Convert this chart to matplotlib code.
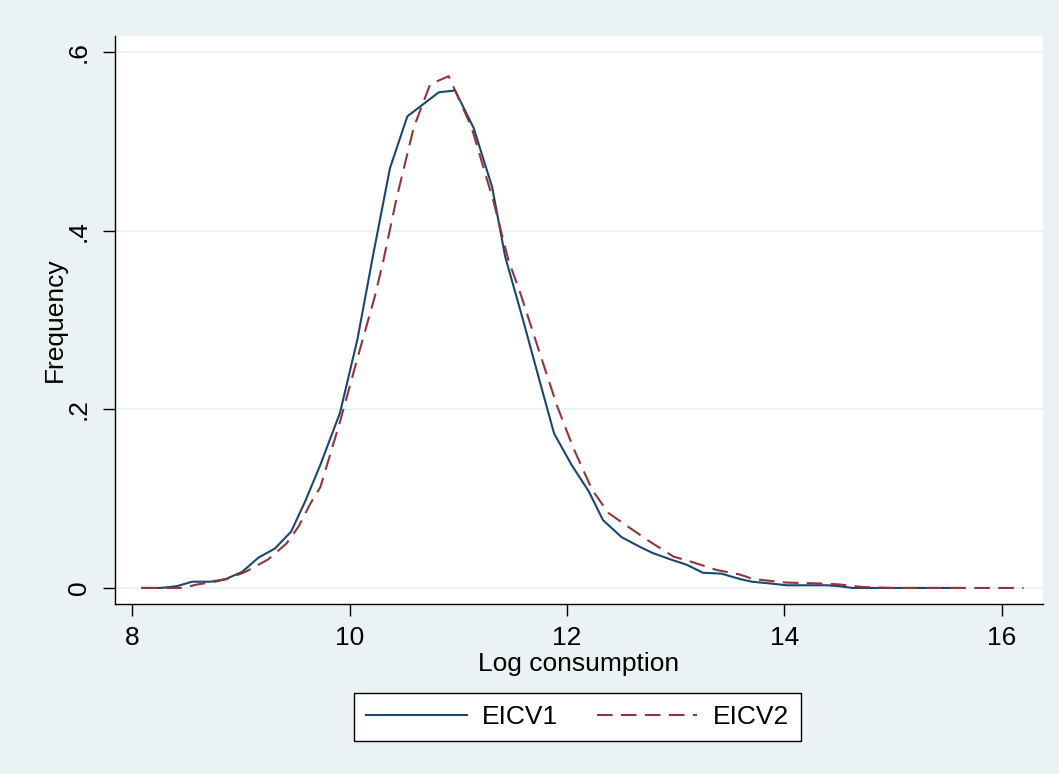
import matplotlib
matplotlib.use("Agg")
import matplotlib.pyplot as plt

# Densidades estimadas
eicv1_x = [8.09, 8.26, 8.41, 8.55, 8.72, 8.86, 9.01, 9.16, 9.31, 9.46,
           9.59, 9.73, 9.91, 10.07, 10.22, 10.37, 10.53, 10.68, 10.82, 10.97,
           11.14, 11.31, 11.43, 11.59, 11.74, 11.88, 12.04, 12.20, 12.33, 12.50,
           12.67, 12.79, 12.95, 13.10, 13.25, 13.42, 13.59, 13.70, 13.87, 14.02,
           14.19, 14.39, 14.50, 14.63, 14.80, 14.95, 15.11, 15.27, 15.43, 15.62]
eicv1_y = [0.000, 0.000, 0.002, 0.007, 0.007, 0.010, 0.018, 0.034, 0.044, 0.063,
           0.097, 0.138, 0.196, 0.278, 0.376, 0.470, 0.528, 0.542, 0.555, 0.557,
           0.515, 0.449, 0.371, 0.302, 0.235, 0.173, 0.138, 0.108, 0.076, 0.057,
           0.046, 0.039, 0.032, 0.026, 0.017, 0.016, 0.010, 0.007, 0.005, 0.003,
           0.003, 0.003, 0.002, 0.000, 0.000, 0.000, 0.000, 0.000, 0.000, 0.000]

eicv2_x = [8.09, 8.26, 8.46, 8.60, 8.76, 8.87, 9.04, 9.25, 9.42, 9.53,
           9.64, 9.73, 9.91, 10.10, 10.23, 10.31, 10.43, 10.59, 10.74, 10.91,
           11.12, 11.32, 11.46, 11.57, 11.74, 11.91, 12.06, 12.23, 12.38, 12.58,
           12.76, 12.98, 13.10, 13.38, 13.59, 13.71, 14.02, 14.33, 14.50, 14.72,
           15.00, 15.40, 15.80, 16.20]
eicv2_y = [0.000, 0.000, 0.000, 0.004, 0.007, 0.010, 0.018, 0.032, 0.050, 0.069,
           0.095, 0.113, 0.186, 0.270, 0.326, 0.367, 0.436, 0.516, 0.564, 0.573,
           0.516, 0.434, 0.367, 0.330, 0.266, 0.203, 0.156, 0.110, 0.084, 0.067,
           0.052, 0.035, 0.031, 0.020, 0.015, 0.010, 0.006, 0.005, 0.004, 0.001,
           0.000, 0.000, 0.000, 0.000]

x_ticks = [8, 10, 12, 14, 16]
y_ticks = [0, 0.2, 0.4, 0.6]
y_tick_labels = ["0", ".2", ".4", ".6"]

fondo = "#EAF2F3"
azul = "#1A476F"
rojo = "#90353B"

plt.rcParams["font.family"] = ["Liberation Sans", "DejaVu Sans"]

fig = plt.figure(figsize=(10.59, 7.74), dpi=100, facecolor=fondo)
ax = fig.add_axes([0.1086, 0.2196, 0.8764, 0.7339])
ax.set_facecolor("white")

for yt in y_ticks:
    ax.axhline(yt, color=fondo, lw=1.3, zorder=0)

ax.plot(eicv1_x, eicv1_y, color=azul, lw=1.5, label="EICV1")
ax.plot(eicv2_x, eicv2_y, color=rojo, lw=1.5, dashes=(7.5, 4), label="EICV2")

ax.set_xlim(7.84, 16.38)
ax.set_ylim(-0.018, 0.618)
ax.set_xticks(x_ticks)
ax.set_xticklabels([str(t) for t in x_ticks])
ax.set_yticks(y_ticks)
ax.set_yticklabels(y_tick_labels, rotation=90, va="center")

for lado in ["top", "right"]:
    ax.spines[lado].set_visible(False)
for lado in ["left", "bottom"]:
    ax.spines[lado].set_linewidth(1.0)
    ax.spines[lado].set_color("black")

ax.tick_params(axis="both", direction="out", length=8.5, width=1.0,
               labelsize=19, colors="black")
ax.tick_params(axis="x", pad=7)
ax.tick_params(axis="y", pad=9)

ax.set_xlabel("Log consumption", fontsize=19, labelpad=2)
ax.set_ylabel("Frequency", fontsize=19, labelpad=0)

leg = fig.legend(loc="center", bbox_to_anchor=(0.5455, 0.0736), ncol=2,
                 fontsize=19, frameon=True, fancybox=False, framealpha=1,
                 edgecolor="black", handlelength=3.8, handletextpad=0.6,
                 columnspacing=1.45, borderpad=0.45)
leg.get_frame().set_linewidth(1.0)

fig.savefig("out.png", dpi=100, facecolor=fondo)
